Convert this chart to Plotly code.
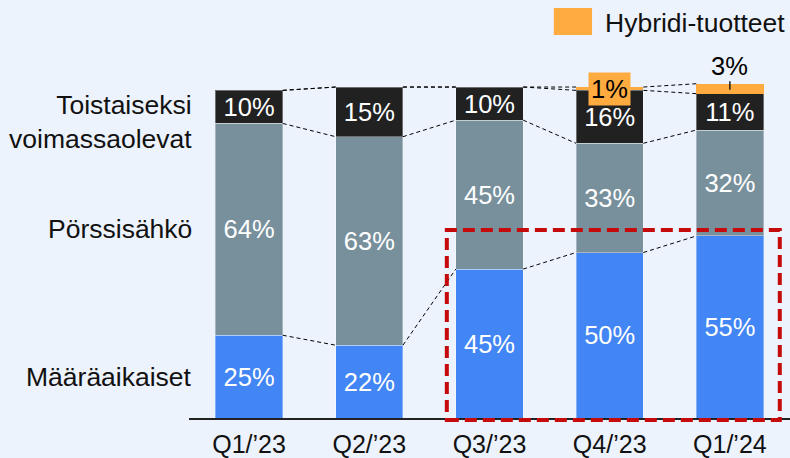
import plotly.graph_objects as go

categories = ["Q1/’23", "Q2/’23", "Q3/’23", "Q4/’23", "Q1/’24"]
maaraaikaiset = [25, 22, 45, 50, 55]
porssisahko = [64, 63, 45, 33, 32]
toistaiseksi = [10, 15, 10, 16, 11]
hybridi = [0, 0, 0, 1, 3]
series_names = ["Määräaikaiset", "Pörssisähkö", "Toistaiseksi<br>voimassaolevat", "Hybridi-tuotteet"]

BG = "#EDF3FC"
BLUE = "#4285F4"
GRAY = "#78909C"
BLACK = "#212121"
ORANGE = "#FFAB40"
RED = "#C40A0A"
FONT = "Liberation Sans, Arial, sans-serif"
FS = 25.5
FS_LBL = 26.5
BAR_W = 0.56

x = list(range(len(categories)))
fig = go.Figure()

def pct(v):
    return [f"{a}%" if a > 0 else "" for a in v]

for vals, col in [(maaraaikaiset, BLUE), (porssisahko, GRAY), (toistaiseksi, BLACK)]:
    fig.add_trace(go.Bar(
        x=x, y=vals, width=BAR_W, marker=dict(color=col, line=dict(width=1, color="rgba(255,255,255,0.35)")),
        text=pct(vals), textposition="inside", insidetextanchor="middle", textangle=0,
        constraintext="none", textfont=dict(family=FONT, size=FS, color="white"),
        showlegend=False, hoverinfo="skip"))
fig.add_trace(go.Bar(
    x=x, y=hybridi, width=BAR_W, marker=dict(color=ORANGE, line=dict(width=0)),
    showlegend=False, hoverinfo="skip"))

# dashed connectors between cumulative levels
levels = []
cum = [0] * len(x)
for vals in [maaraaikaiset, porssisahko, toistaiseksi, hybridi]:
    cum = [c + v for c, v in zip(cum, vals)]
    levels.append(list(cum))
for lev in levels:
    for i in range(len(x) - 1):
        fig.add_trace(go.Scatter(
            x=[x[i] + BAR_W / 2, x[i + 1] - BAR_W / 2], y=[lev[i], lev[i + 1]],
            mode="lines", line=dict(color="black", width=1, dash="4px,3px"),
            showlegend=False, hoverinfo="skip"))

# hybrid labels
cum_black = levels[2]
for i, h in enumerate(hybridi):
    if h == 1:
        fig.add_annotation(x=x[i], y=cum_black[i] + h / 2, text=f"{h}%", showarrow=False,
                           bgcolor=ORANGE, borderpad=2, font=dict(family=FONT, size=FS, color="black"))
    elif h > 1:
        fig.add_annotation(x=x[i], y=cum_black[i] + h * 0.4, text=f"{h}%", showarrow=True,
                           arrowhead=0, arrowwidth=1.3, arrowcolor="black", ax=0, ay=-24,
                           standoff=0, font=dict(family=FONT, size=FS, color="black"))

# row labels on the left
label_y = [maaraaikaiset[0] / 2, maaraaikaiset[0] + porssisahko[0] / 2,
           maaraaikaiset[0] + porssisahko[0] + 0.5]
for name, yy in zip(series_names[:3], label_y):
    fig.add_annotation(x=0, xref="paper", xanchor="right", xshift=5, y=yy, yanchor="middle",
                       text=name, showarrow=False, align="right",
                       font=dict(family=FONT, size=FS_LBL, color="#111111"))

# legend
fig.add_shape(type="rect", xref="paper", yref="paper", x0=0.607, x1=0.6706, y0=0.916, y1=0.981,
              fillcolor=ORANGE, line=dict(width=0))
fig.add_annotation(x=0.689, xref="paper", xanchor="left", y=0.945, yref="paper", yanchor="middle",
                   text=series_names[3], showarrow=False, font=dict(family=FONT, size=FS_LBL, color="#111111"))

# highlight box
fig.add_shape(type="rect", xref="paper", yref="paper", x0=0.429, x1=0.983, y0=-0.005, y1=0.4498,
              line=dict(color=RED, width=4, dash="12px,6px"), fillcolor="rgba(0,0,0,0)", layer="above")

fig.update_layout(
    barmode="stack", width=790, height=458,
    margin=dict(l=189, r=0, t=0, b=40),
    paper_bgcolor=BG, plot_bgcolor=BG,
    font=dict(family=FONT, size=FS, color="#111111"),
    xaxis=dict(range=[-0.5, 4.5], tickmode="array", tickvals=x, ticktext=categories,
               showgrid=False, zeroline=False, showline=True, linecolor="#222222", linewidth=1.5,
               ticklabelstandoff=3,
               tickfont=dict(family=FONT, size=25, color="#111111"), fixedrange=True),
    yaxis=dict(range=[0, 126.3], visible=False, fixedrange=True),
)

fig.write_html("out.html", config={"displayModeBar": False},
               post_script="document.body.style.margin='0';document.body.style.overflow='hidden';")
